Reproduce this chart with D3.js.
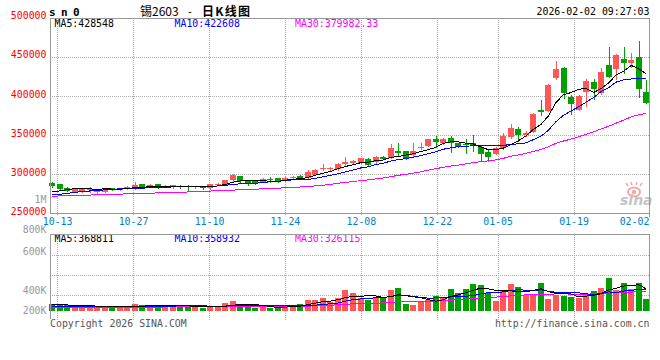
<!DOCTYPE html>
<html>
<head>
<meta charset="utf-8">
<script src="https://cdn.jsdelivr.net/npm/d3@7/dist/d3.min.js"></script>
<style>
  body { margin: 0; background: #fff; }
  svg text { font-family: "DejaVu Sans Mono", "Liberation Mono", monospace; font-size: 9.9px; }
</style>
</head>
<body>
<svg id="chart" width="660" height="360"></svg>
<script>
// trading days shown on the chart
const dates = ['10-10','10-13','10-14','10-15','10-16','10-17','10-20','10-21','10-22','10-23','10-24','10-27','10-28','10-29','10-30','10-31',
  '11-03','11-04','11-05','11-06','11-07','11-10','11-11','11-12','11-13','11-14','11-17','11-18','11-19','11-20','11-21','11-24','11-25','11-26','11-27','11-28',
  '12-01','12-02','12-03','12-04','12-05','12-08','12-09','12-10','12-11','12-12','12-15','12-16','12-17','12-18','12-19','12-22','12-23','12-24','12-25','12-26','12-29','12-30','12-31',
  '01-05','01-06','01-07','01-08','01-09','01-12','01-13','01-14','01-15','01-16','01-19','01-20','01-21','01-22','01-23','01-26','01-27','01-28','01-29','01-30','02-02'];

const open  = [289000,287700,282800,277900,278800,279600,277900,277900,282600,280000,281800,282200,287700,283900,287300,284800,283500,285600,285200,283500,
  284800,282500,287300,286800,292500,297500,291600,291600,290500,294300,294800,292500,295400,297600,296000,299400,306300,306300,306500,312900,
  315000,315000,320100,315400,322700,321400,329900,329900,324400,334200,336300,345300,339700,347000,339700,338900,339700,335500,329100,326100,
  333300,348200,357600,350800,354600,382400,381500,423700,436500,399400,382400,405800,418600,403700,440300,434400,448000,442900,450600,405800];
const high  = [290700,288000,284000,282600,283000,283900,280500,282200,283000,282200,284700,289800,288000,288200,287700,286400,287000,286200,286800,285600,
  285500,287800,289000,293200,300500,298500,292000,292200,296000,296500,295500,298000,297500,299000,306000,307000,313000,309000,315000,322700,
  318500,321500,321000,323500,323500,338900,339700,330500,339700,340600,345500,349100,346500,349100,340500,344800,350000,337600,331200,335000,
  352500,364000,361000,355000,378000,395100,415000,445400,437000,401500,401500,421600,421600,435600,463300,453500,463300,454800,470600,420700];
const low   = [283900,281500,278500,277500,278000,277900,276200,277500,280500,279600,281300,281800,282200,283500,283000,283500,283000,283000,280000,283000,
  281500,281800,286500,286000,292000,290500,286500,287500,290000,290500,290500,292000,295000,294300,295500,299000,305300,305800,306000,312000,
  314000,314500,311000,315000,319500,321000,323500,320000,324000,332000,336000,335500,339000,329100,335000,326900,330300,317600,317600,325500,
  332500,346100,343100,349500,354000,376000,381000,421600,397300,377200,382000,387500,396800,403000,424500,421600,429200,436900,399400,390900];
const close = [285200,281800,279200,282200,282200,281800,279600,281800,280900,281800,284300,286900,282600,286900,283500,285300,286400,283500,283500,285200,
  282200,287300,288300,292800,299000,291000,288700,288000,294300,293000,291000,295500,296500,294800,302500,305800,307800,307800,312900,316300,
  317100,320500,311600,322700,320100,333300,326900,320500,330300,335500,344800,341900,345700,339700,335500,337600,336300,326100,322700,334200,
  349100,358900,350000,353400,377200,379800,414300,434800,404500,389600,400700,419900,408800,430500,425000,452300,442900,446300,408800,391700];

const ma5  = [277500,279000,280500,281800,282120,281440,281000,281520,281260,281180,281680,283140,283300,284500,284840,285040,284940,285120,284440,284780,
  284160,284340,285300,287160,289920,291680,291960,291900,292200,291000,291000,292360,294060,294160,296060,299020,301480,303740,307360,310120,
  312380,314920,315680,317640,318400,321640,322920,324700,326220,329300,331600,334600,339640,341520,341520,340080,338960,335040,331640,331380,
  333680,338200,342980,349120,357720,363860,374940,391900,402120,404600,408780,409900,404700,409900,416980,427300,431900,439400,435060,428400];
const ma10 = [273700,274600,275800,277000,278000,278800,279500,280200,280900,281650,281560,282070,282410,282880,283010,283360,284040,284210,284470,284810,
  284600,284640,285210,285800,287350,287920,288150,288600,289680,290460,291340,292160,292980,293180,293530,295010,296920,298900,300760,303090,
  305700,308200,309710,312500,314260,317010,318920,320190,321930,323850,326620,328760,332170,333870,335410,335840,336780,337340,336580,336450,
  336880,338580,339010,340380,344550,348770,356570,367440,375620,381160,386320,392420,398300,406010,410790,418040,420900,422050,422480,422690];
const ma30 = [272200,272400,272700,273000,273300,273600,273900,274200,274500,274800,275100,275400,275700,276000,276300,276600,276900,277200,277500,277900,
  278300,278700,279100,279500,279900,280300,280700,281100,281500,281900,282400,282900,283400,283900,284500,285300,286200,287300,288640,289790,
  290880,292000,292970,294160,295380,296980,298830,300060,301620,303300,305390,307210,309120,310680,311900,313450,315040,316310,317260,318630,
  320570,323180,324960,326920,329410,331870,335420,339660,342710,345150,347940,351250,354490,358090,361580,365550,369420,373610,376230,378100];

const volume = [112000,112000,95200,78400,78400,78400,78400,67200,50400,61600,84000,112000,95200,95200,95200,95200,78400,78400,78400,78400,
  50400,78400,61600,134400,162400,106400,78400,50400,78400,50400,50400,95200,95200,112000,179200,179200,218400,145600,224000,352800,
  296800,224000,184800,212800,224000,352800,392000,117600,100800,168000,184800,252000,240800,369600,302400,369600,453600,436800,296800,168000,
  336000,448000,403200,268800,280000,464800,201600,268800,257600,235200,224000,268800,336000,392000,560000,347200,464800,369600,464800,201600];
const volMa5  = [100800,106400,100800,98000,95200,88480,81760,76160,70560,67200,68320,75040,80640,89600,96320,98560,91840,88480,85120,81760,
  72800,72800,69440,80640,97440,108640,108640,106400,95200,72800,61600,64960,73920,80640,106400,132160,156800,166880,189280,224000,
  247520,248640,256480,254240,228480,239680,273280,259840,237440,226240,192640,164640,189280,243040,269920,306880,347200,386400,371840,344960,
  338240,337120,330400,324800,347200,372960,323680,296800,294560,285600,237440,250880,264320,291200,356160,380800,420000,426720,441280,369600];
const volMa10 = [72800,75600,77280,78400,79520,80640,81200,81200,81200,81200,78400,78400,78400,80080,81760,83440,83440,84560,87360,89040,
  85680,82320,78960,82880,89600,90720,90720,87920,87920,85120,85120,86800,90160,87920,89600,96880,110880,120400,134960,165200,
  189840,202720,211680,221760,226240,243600,260960,258160,245840,227360,216160,218960,224560,240240,248080,249760,255920,287840,307440,307440,
  322560,342160,358400,348320,346080,355600,330400,313600,309680,316400,305200,287280,280560,292880,320880,309120,335440,345520,366240,362880];
const volMa30 = [58800,59360,59920,60480,61040,61600,62160,62720,63280,63840,64400,64960,65520,66080,66640,67200,67760,68320,68880,69440,
  70000,70560,71120,71680,72240,72800,73360,73920,74480,75600,76720,77840,78960,80640,82880,85680,89600,97610,103430,113120,
  120230,123930,126950,130870,135130,143750,154170,155510,156240,159210,163690,169510,175450,183290,187990,196730,209270,222150,229430,233350,
  242870,254630,264880,270090,273450,282970,282410,286550,287670,283750,281290,282800,287840,293830,305030,304810,307270,315670,327770,328890];

const priceTicks = [500000, 450000, 400000, 350000, 300000, 250000];
const dateTicks = ['10-13','10-27','11-10','11-24','12-08','12-22','01-05','01-19','02-02'];
const volTickLabels = ['1M','800K','600K','400K','200K'];
const priceLegend = ['MA5:428548', 'MA10:422608', 'MA30:379982.33'];
const volLegend = ['MA5:368811', 'MA10:358932', 'MA30:326115'];

function drawChart() {
  const svg = d3.select('#chart');
  const pL = 50, pR = 649, pT = 18, pB = 213.5;
  const vTop = 234.5, vBase = 311, vBottom = 318.5;
  const UP = '#ff5656', DOWN = '#00a000', GRID = '#aaa', AXIS = '#999';
  const maColors = ['#000', '#0000ff', '#ff00ff'];

  const xb = d3.scaleBand().domain(dates).range([48.5, 650]);   // candles
  const xg = d3.scalePoint().domain(dates).range([50, 650]);    // grid / labels
  const y = d3.scaleLinear().domain([250000, 500000]).range([pB, pT]);
  const yv = d3.scaleLinear().domain([0, 1290000]).range([vBase, 234.2]);
  const pix = d => Math.round(xb(d) + xb.bandwidth() / 2);
  const cx = d => xb(d) + xb.bandwidth() / 2;

  // header texts
  svg.append('text').attr('x', 49).attr('y', 16).style('font-size', '11px').style('font-weight', 'bold')
    .attr('letter-spacing', 5.4).text('sn0');
  svg.append('text').attr('x', 140).attr('y', 15.5)
    .style('font-family', '"Noto Sans CJK SC", sans-serif').style('font-size', '12px').text('锡2603');
  svg.append('text').attr('x', 187).attr('y', 15).style('font-size', '10px').text('-');
  svg.append('text').attr('x', 202).attr('y', 15.5).attr('textLength', 48).attr('lengthAdjust', 'spacing')
    .style('font-family', '"Noto Sans CJK SC", sans-serif').style('font-size', '12px').style('font-weight', 'bold').text('日K线图');
  svg.append('text').attr('x', 649.5).attr('y', 15).attr('text-anchor', 'end').text('2026-02-02 09:27:03');

  // grid lines
  const grid = svg.append('g').attr('shape-rendering', 'crispEdges')
    .attr('stroke', GRID).attr('stroke-dasharray', '1,1');
  priceTicks.filter(v => v > 250000 && v < 500000).forEach(v => {
    const yy = Math.round(y(v)) + 0.5;
    grid.append('line').attr('x1', pL).attr('x2', pR).attr('y1', yy).attr('y2', yy);
  });
  dateTicks.forEach(d => {
    const gx = Math.floor(xg(d)) + 0.5;
    if (gx >= pR - 1) return;
    grid.append('line').attr('x1', gx).attr('x2', gx).attr('y1', pT).attr('y2', pB + 3);
    grid.append('line').attr('x1', gx).attr('x2', gx).attr('y1', vTop).attr('y2', vBottom + 2);
  });
  [255.5, 275.5, 295.5].forEach(yy => {
    grid.append('line').attr('x1', pL).attr('x2', pR).attr('y1', yy).attr('y2', yy);
  });

  // price labels
  priceTicks.forEach(v => {
    svg.append('text').attr('x', 46.5).attr('y', y(v) + 1.3).attr('text-anchor', 'end')
      .attr('fill', '#f00').text(v);
  });
  // volume labels (placed where sina puts them)
  const volLabelY = [202.7, 233, 254.5, 294.3, 314.3];
  volTickLabels.forEach((t, i) => {
    svg.append('text').attr('x', 46.5).attr('y', volLabelY[i]).attr('text-anchor', 'end')
      .attr('fill', '#999').text(t);
  });
  // date labels
  dateTicks.forEach(d => {
    const tx = Math.min(xg(d), 649.5 - 15);
    svg.append('text').attr('x', tx).attr('y', 224.5).attr('text-anchor', 'middle')
      .attr('fill', '#0080cc').text(d);
  });

  // sina watermark
  const wm = svg.append('g');
  wm.append('ellipse').attr('cx', 634).attr('cy', 192).attr('rx', 6).attr('ry', 4.5)
    .attr('fill', 'none').attr('stroke', '#f2a9a9').attr('stroke-width', 2);
  wm.append('circle').attr('cx', 634).attr('cy', 192).attr('r', 2.2).attr('fill', '#f2a9a9');
  [[628, 186, 626, 183], [632, 185, 631, 182], [636, 185, 637, 182], [640, 186, 642, 183]].forEach(p => {
    wm.append('line').attr('x1', p[0]).attr('y1', p[1]).attr('x2', p[2]).attr('y2', p[3])
      .attr('stroke', '#f2a9a9').attr('stroke-width', 1.5);
  });
  wm.append('text').attr('x', 620).attr('y', 205)
    .style('font-family', '"DejaVu Sans", sans-serif').style('font-size', '14px')
    .style('font-style', 'italic').style('font-weight', 'bold').attr('fill', '#c4c4c4').text('sina');

  // legends
  const legX = [54.5, 174.5, 295];
  priceLegend.forEach((t, i) => svg.append('text').attr('x', legX[i]).attr('y', 27).attr('fill', maColors[i]).text(t));
  volLegend.forEach((t, i) => svg.append('text').attr('x', legX[i]).attr('y', 242).attr('fill', maColors[i]).text(t));

  // candles
  const candles = svg.append('g').attr('shape-rendering', 'crispEdges');
  dates.forEach((d, i) => {
    const col = close[i] >= open[i] ? UP : DOWN;
    const px = pix(d);
    candles.append('line').attr('x1', px + 0.5).attr('x2', px + 0.5)
      .attr('y1', Math.round(y(high[i]))).attr('y2', Math.round(y(low[i])) + 1).attr('stroke', col);
    const t = Math.round(y(Math.max(open[i], close[i])));
    const b = Math.round(y(Math.min(open[i], close[i])));
    candles.append('rect').attr('x', px - 3).attr('width', 6)
      .attr('y', t).attr('height', Math.max(1, b - t)).attr('fill', col);
  });

  // volume bars
  const vols = svg.append('g').attr('shape-rendering', 'crispEdges');
  dates.forEach((d, i) => {
    const col = close[i] >= open[i] ? UP : DOWN;
    const vt = Math.round(yv(volume[i]));
    vols.append('rect').attr('x', pix(d) - 3).attr('width', 6)
      .attr('y', vt).attr('height', vBase - vt).attr('fill', col);
  });

  // moving averages
  const priceLine = d3.line().x((v, i) => cx(dates[i])).y(v => y(v));
  const volLine = d3.line().x((v, i) => cx(dates[i])).y(v => yv(v));
  [ma30, ma10, ma5].forEach((s, k) => {
    svg.append('path').attr('d', priceLine(s)).attr('fill', 'none')
      .attr('stroke', maColors[2 - k]).attr('stroke-width', 1).attr('shape-rendering', 'crispEdges');
  });
  [volMa30, volMa10, volMa5].forEach((s, k) => {
    svg.append('path').attr('d', volLine(s)).attr('fill', 'none')
      .attr('stroke', maColors[2 - k]).attr('stroke-width', 1).attr('shape-rendering', 'crispEdges');
  });

  // frames
  const frame = svg.append('g').attr('stroke', AXIS).attr('shape-rendering', 'crispEdges');
  frame.append('line').attr('x1', pL).attr('x2', pR + 0.5).attr('y1', pT + 0.5).attr('y2', pT + 0.5);
  frame.append('line').attr('x1', pL).attr('x2', pR + 0.5).attr('y1', pB).attr('y2', pB);
  frame.append('line').attr('x1', pL + 0.5).attr('x2', pL + 0.5).attr('y1', pT).attr('y2', pB);
  frame.append('line').attr('x1', pR + 0.5).attr('x2', pR + 0.5).attr('y1', pT).attr('y2', pB + 3);
  frame.append('line').attr('x1', pL).attr('x2', pR + 0.5).attr('y1', vTop).attr('y2', vTop);
  frame.append('line').attr('x1', pL + 0.5).attr('x2', pL + 0.5).attr('y1', vTop).attr('y2', vBottom);
  frame.append('line').attr('x1', pR + 0.5).attr('x2', pR + 0.5).attr('y1', vTop).attr('y2', vBase);

  // footer
  svg.append('text').attr('x', 50).attr('y', 326.5).attr('fill', '#555').text('Copyright 2026 SINA.COM');
  svg.append('text').attr('x', 649.5).attr('y', 326.5).attr('text-anchor', 'end').attr('fill', '#555')
    .text('http://finance.sina.com.cn');
}

drawChart();
</script>
</body>
</html>
